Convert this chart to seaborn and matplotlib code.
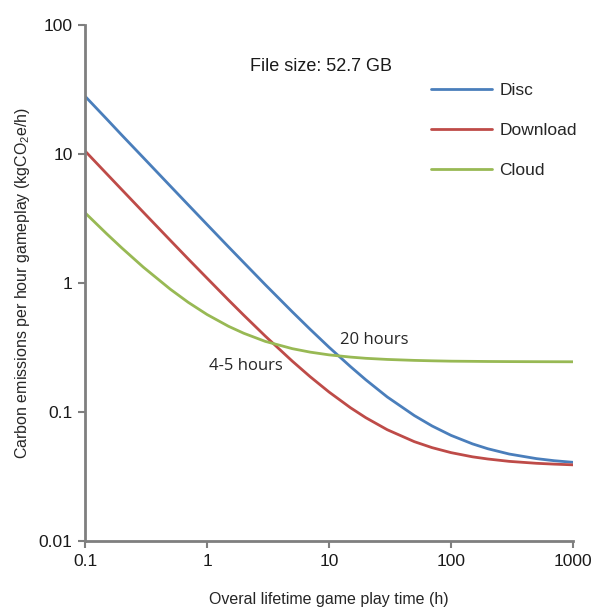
import numpy as np
import pandas as pd
import matplotlib
matplotlib.use("Agg")
import matplotlib.pyplot as plt
import seaborn as sns

# Data
hours = [0.1, 0.15, 0.2, 0.3, 0.5, 0.7, 1, 1.5, 2, 3, 5, 7, 10, 15, 20, 30, 50,
         70, 100, 150, 200, 300, 500, 700, 1000]
disc = [28.0, 18.7, 14.0, 9.37, 5.64, 4.04, 2.84, 1.905, 1.44, 0.971, 0.598,
        0.438, 0.318, 0.225, 0.178, 0.131, 0.094, 0.078, 0.066, 0.0567, 0.052,
        0.0473, 0.0436, 0.042, 0.0408]
download = [10.54, 7.04, 5.29, 3.54, 2.14, 1.538, 1.09, 0.738, 0.563, 0.388,
            0.248, 0.188, 0.143, 0.108, 0.0905, 0.073, 0.059, 0.053, 0.0485,
            0.045, 0.0433, 0.0415, 0.0401, 0.0395, 0.039]
cloud = [3.5, 2.412, 1.87, 1.328, 0.895, 0.709, 0.57, 0.462, 0.408, 0.353,
         0.31, 0.2914, 0.2775, 0.2667, 0.261, 0.2558, 0.2515, 0.2496, 0.248,
         0.2472, 0.2466, 0.2461, 0.2457, 0.2455, 0.2453]
series_names = ["Disc", "Download", "Cloud"]
colors = ["#4a7ebb", "#be4b48", "#98b954"]
x_ticks = [0.1, 1, 10, 100, 1000]
x_ticklabels = ["0.1", "1", "10", "100", "1000"]
y_ticks = [0.01, 0.1, 1, 10, 100]
y_ticklabels = ["0.01", "0.1", "1", "10", "100"]

df = pd.DataFrame({
    "hours": hours * 3,
    "value": disc + download + cloud,
    "method": [series_names[0]] * len(hours) + [series_names[1]] * len(hours)
              + [series_names[2]] * len(hours),
})

sns.set_style("white")
plt.rcParams["font.family"] = ["Liberation Sans", "DejaVu Sans"]
plt.rcParams["mathtext.fontset"] = "custom"
plt.rcParams["mathtext.rm"] = "Liberation Sans"

fig = plt.figure(figsize=(5.95, 6.08), dpi=100)
ax = fig.add_axes([0.143, 0.110, 0.820, 0.849])

sns.lineplot(data=df, x="hours", y="value", hue="method", palette=colors,
             hue_order=series_names, linewidth=2, ax=ax, legend=True)

ax.set_xscale("log")
ax.set_yscale("log")
ax.set_xlim(0.1, 1000)
ax.set_ylim(0.01, 100)
ax.set_xticks(x_ticks)
ax.set_xticklabels(x_ticklabels)
ax.set_yticks(y_ticks)
ax.set_yticklabels(y_ticklabels)
ax.minorticks_off()

grey = "#7f7f7f"
for s in ["top", "right"]:
    ax.spines[s].set_visible(False)
for s in ["left", "bottom"]:
    ax.spines[s].set_color(grey)
    ax.spines[s].set_linewidth(2)
ax.tick_params(axis="both", which="major", direction="out", length=5, width=1.5,
               color=grey, labelsize=12.5, labelcolor="#1a1a1a", pad=4,
               bottom=True, left=True)

ax.set_xlabel("Overal lifetime game play time (h)", fontsize=11.5, color="#262626",
              labelpad=17)
ax.set_ylabel(r"Carbon emissions per hour gameplay (kgCO$_\mathregular{2}$e/h)",
              fontsize=11.5, color="#262626", labelpad=5)

leg = ax.legend(loc="upper left", bbox_to_anchor=(0.71, 0.887), frameon=False,
                fontsize=12.5, handlelength=3.5, handletextpad=0.4,
                labelspacing=1.42, borderaxespad=0, borderpad=0)
for line in leg.get_lines():
    line.set_linewidth(2)

ax.text(0.338, 0.92, "File size: 52.7 GB", transform=ax.transAxes, fontsize=13,
        color="#1a1a1a", ha="left", va="center")
ax.text(23.7, 0.362, "20 hours", fontsize=12, color="#262626",
        family=["Open Sans", "DejaVu Sans"], ha="center", va="center")
ax.text(2.07, 0.228, "4-5 hours", fontsize=12, color="#262626",
        family=["Open Sans", "DejaVu Sans"], ha="center", va="center")

fig.savefig("out.png", dpi=100)
